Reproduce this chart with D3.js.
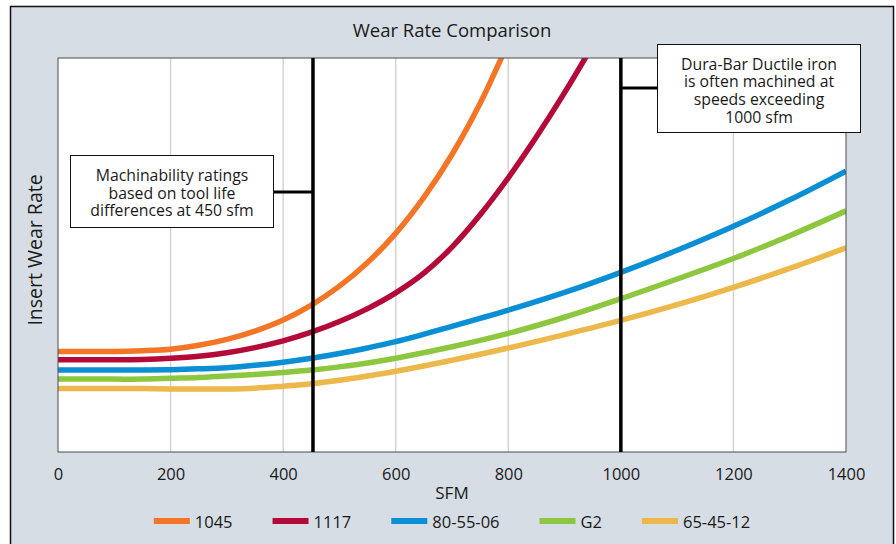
<!DOCTYPE html>
<html>
<head>
<meta charset="utf-8">
<script src="https://cdn.jsdelivr.net/npm/d3@7"></script>
<style>
  html, body { margin: 0; padding: 0; background: #fff; }
  svg { display: block; }
  text { font-family: "Open Sans", "Noto Sans", sans-serif; fill: #1a1a1a; }
</style>
</head>
<body>
<svg id="chart" width="896" height="544"></svg>
<script>
// ---------------- data ----------------
const title = "Wear Rate Comparison";
const xLabel = "SFM";
const yLabel = "Insert Wear Rate";
const xTicks = [0, 200, 400, 600, 800, 1000, 1200, 1400];
const gridTicks = [200, 400, 600, 800, 1000, 1200];

const seriesNames = ["1045", "1117", "80-55-06", "G2", "65-45-12"];
const seriesColors = ["#f47526", "#b30a3a", "#0a8fd5", "#8dc63f", "#ecb84c"];

const sfm1045 = [0, 50, 100, 150, 200, 250, 300, 350, 400, 450, 500, 550, 600, 650, 700, 750, 800];
const wear1045 = [25.5, 25.5, 25.5, 25.7, 26.1, 27.1, 28.6, 30.7, 33.5, 37.3, 42.1, 48.1, 55.5, 64.6, 75.5, 88.5, 104];

const sfm1117 = [0, 50, 100, 150, 200, 250, 300, 350, 400, 450, 500, 550, 600, 650, 700, 750, 800, 850, 900, 950];
const wear1117 = [23.4, 23.4, 23.4, 23.5, 23.8, 24.3, 25.2, 26.5, 28.2, 30.4, 33.1, 36.4, 40.4, 45.4, 52.0, 60.2, 69.6, 80.0, 91.2, 103.2];

const sfmDuctile = [0, 50, 100, 150, 200, 250, 300, 350, 400, 450, 500, 550, 600, 700, 800, 900, 1000, 1100, 1200, 1300, 1400];
const wear805506 = [20.8, 20.8, 20.8, 20.8, 20.9, 21.1, 21.4, 22.0, 22.8, 23.8, 25.0, 26.4, 28.0, 31.9, 36.0, 40.5, 45.6, 51.2, 57.3, 64.0, 71.3];
const wearG2     = [18.5, 18.5, 18.5, 18.5, 18.7, 18.9, 19.3, 19.7, 20.2, 20.8, 21.6, 22.6, 23.8, 26.7, 30.1, 34.2, 38.9, 43.9, 49.1, 54.9, 61.2];
const wear654512 = [16.1, 16.1, 16.1, 16.1, 16.0, 16.0, 16.0, 16.2, 16.7, 17.3, 18.2, 19.3, 20.5, 23.3, 26.4, 29.8, 33.4, 37.4, 41.8, 46.6, 51.8];

const refLines = [453, 1000];
const note1 = ["Machinability ratings", "based on tool life", "differences at 450 sfm"];
const note2 = ["Dura-Bar Ductile iron", "is often machined at", "speeds exceeding", "1000 sfm"];

// ---------------- layout ----------------
const plot = { left: 58, right: 846, top: 58, bottom: 452 };
const svg = d3.select("#chart");

// outer panel
svg.append("rect").attr("x", 10.5).attr("y", 6.5).attr("width", 883).attr("height", 560)
  .attr("fill", "#d6dde4").attr("stroke", "#111").attr("stroke-width", 1.5);

const x = d3.scaleLinear().domain([0, 1400]).range([plot.left, plot.right]);
const y = d3.scaleLinear().domain([0, 100]).range([plot.bottom, plot.top]);

// plot background
svg.append("rect").attr("x", plot.left).attr("y", plot.top)
  .attr("width", plot.right - plot.left).attr("height", plot.bottom - plot.top)
  .attr("fill", "#fff");

// gridlines
svg.append("g").selectAll("line").data(gridTicks).join("line")
  .attr("x1", d => x(d)).attr("x2", d => x(d))
  .attr("y1", plot.top).attr("y2", plot.bottom)
  .attr("stroke", "#d4d4d4").attr("stroke-width", 1.5);

// clip
svg.append("clipPath").attr("id", "clip").append("rect")
  .attr("x", plot.left).attr("y", plot.top)
  .attr("width", plot.right - plot.left).attr("height", plot.bottom - plot.top);

const series = [
  { name: seriesNames[0], color: seriesColors[0], xs: sfm1045, ys: wear1045 },
  { name: seriesNames[1], color: seriesColors[1], xs: sfm1117, ys: wear1117 },
  { name: seriesNames[2], color: seriesColors[2], xs: sfmDuctile, ys: wear805506 },
  { name: seriesNames[3], color: seriesColors[3], xs: sfmDuctile, ys: wearG2 },
  { name: seriesNames[4], color: seriesColors[4], xs: sfmDuctile, ys: wear654512 }
];

const line = d3.line().x(d => x(d[0])).y(d => y(d[1])).curve(d3.curveCatmullRom.alpha(0.5));
const gLines = svg.append("g").attr("clip-path", "url(#clip)");
series.slice().reverse().forEach(s => {
  gLines.append("path")
    .datum(s.xs.map((v, i) => [v, s.ys[i]]))
    .attr("d", line)
    .attr("fill", "none")
    .attr("stroke", s.color)
    .attr("stroke-width", 5.5);
});

// plot border
svg.append("rect").attr("x", plot.left).attr("y", plot.top)
  .attr("width", plot.right - plot.left).attr("height", plot.bottom - plot.top)
  .attr("fill", "none").attr("stroke", "#4a4a4a").attr("stroke-width", 1);

// reference lines
svg.append("g").selectAll("line").data(refLines).join("line")
  .attr("x1", d => x(d)).attr("x2", d => x(d))
  .attr("y1", plot.top).attr("y2", plot.bottom)
  .attr("stroke", "#000").attr("stroke-width", 3.5);

function noteBox(box, lines, firstBaseline, lineStep) {
  svg.append("rect").attr("x", box.left).attr("y", box.top)
    .attr("width", box.right - box.left).attr("height", box.bottom - box.top)
    .attr("fill", "#fff").attr("stroke", "#111").attr("stroke-width", 1);
  const cxm = (box.left + box.right) / 2;
  svg.append("g").selectAll("text").data(lines).join("text")
    .attr("x", cxm).attr("y", (d, i) => firstBaseline + i * lineStep)
    .attr("text-anchor", "middle").attr("font-size", 15.8).text(d => d);
}

// annotation 1
const box1 = { left: 70.5, right: 273.5, top: 155.5, bottom: 227.5, linkY: 192 };
svg.append("line").attr("x1", box1.right).attr("x2", x(refLines[0]))
  .attr("y1", box1.linkY).attr("y2", box1.linkY).attr("stroke", "#000").attr("stroke-width", 3);
noteBox(box1, note1, 181, 17.5);

// annotation 2
const box2 = { left: 657.5, right: 860.5, top: 44.5, bottom: 132.5, linkY: 88 };
svg.append("line").attr("x1", x(refLines[1])).attr("x2", box2.left)
  .attr("y1", box2.linkY).attr("y2", box2.linkY).attr("stroke", "#000").attr("stroke-width", 3);
noteBox(box2, note2, 69.5, 17.8);

// x axis
const xAxis = d3.axisBottom(x).tickValues(xTicks).tickSize(0).tickPadding(0).tickFormat(d3.format("d"));
const gx = svg.append("g").attr("transform", `translate(0,${plot.bottom})`).call(xAxis);
gx.select(".domain").remove();
gx.selectAll("text").attr("font-size", 16.5).attr("font-family", "\"Open Sans\", sans-serif")
  .attr("fill", "#1a1a1a").attr("dy", null).attr("y", 28);

// titles
svg.append("text").attr("x", 452).attr("y", 37).attr("text-anchor", "middle")
  .attr("font-size", 18.5).text(title);
svg.append("text").attr("x", 452).attr("y", 499).attr("text-anchor", "middle")
  .attr("font-size", 17).text(xLabel);
svg.append("text").attr("transform", "translate(42,250) rotate(-90)")
  .attr("text-anchor", "middle").attr("font-size", 19.5).text(yLabel);

// legend
const gLeg = svg.append("g");
const swW = 36, swGap = 5, itemGap = 40;
const items = series.map(s => {
  const g = gLeg.append("g");
  g.append("rect").attr("x", 0).attr("y", -3).attr("width", swW).attr("height", 6).attr("fill", s.color);
  const t = g.append("text").attr("x", swW + swGap).attr("y", 6.5).attr("font-size", 16.5).text(s.name);
  return { g, w: swW + swGap + t.node().getComputedTextLength() };
});
const total = d3.sum(items, d => d.w) + itemGap * (items.length - 1);
let cx = (plot.left + plot.right) / 2 - total / 2;
items.forEach(it => { it.g.attr("transform", `translate(${cx},521)`); cx += it.w + itemGap; });
</script>
</body>
</html>
